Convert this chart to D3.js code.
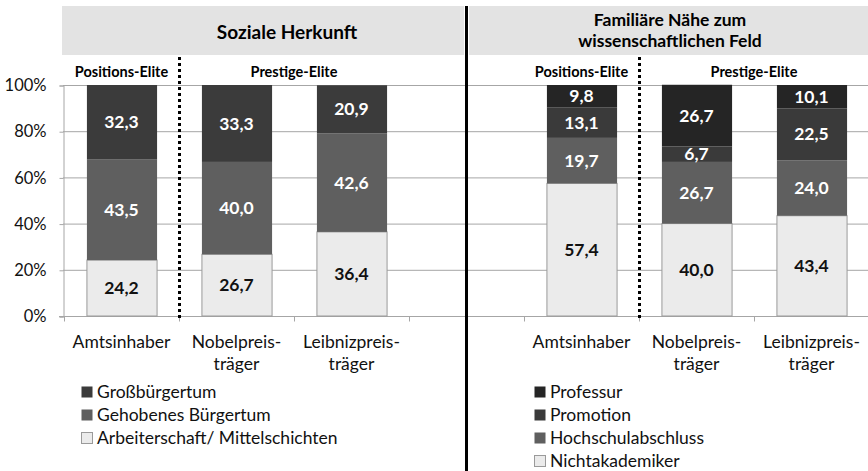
<!DOCTYPE html>
<html lang="de">
<head>
<meta charset="utf-8">
<title>Soziale Herkunft / Familiäre Nähe</title>
<script src="https://cdn.jsdelivr.net/npm/d3@7"></script>
<style>
  body { margin: 0; background: #fff; }
  text { font-family: Lato, "Open Sans", sans-serif; }
</style>
</head>
<body>
<div id="chart"></div>
<script>
// categories (x axis, two lines each)
var categories = ["Amtsinhaber", "Nobelpreisträger", "Leibnizpreisträger"];
var categoryLines = [["Amtsinhaber"], ["Nobelpreis-", "träger"], ["Leibnizpreis-", "träger"]];
var yTicks = [0, 20, 40, 60, 80, 100];

// left panel: Soziale Herkunft (bottom to top)
var herkunftSeries = ["Arbeiterschaft/ Mittelschichten", "Gehobenes Bürgertum", "Großbürgertum"];
var arbeiterschaft = [24.2, 26.7, 36.4];
var gehobenes = [43.5, 40.0, 42.6];
var grossbuerger = [32.3, 33.3, 20.9];

// right panel: Familiäre Nähe (bottom to top)
var naeheSeries = ["Nichtakademiker", "Hochschulabschluss", "Promotion", "Professur"];
var nichtakademiker = [57.4, 40.0, 43.4];
var hochschul = [19.7, 26.7, 24.0];
var promotion = [13.1, 6.7, 22.5];
var professur = [9.8, 26.7, 10.1];

var width = 868, height = 471;

var svg = d3.select("#chart").append("svg")
    .attr("width", width)
    .attr("height", height);

var y = d3.scaleLinear().domain([0, 100]).range([316, 85]);

// gridlines across whole width
svg.append("g").selectAll("line")
    .data(yTicks.filter(function(d) { return d > 0; }))
    .enter().append("line")
    .attr("x1", 63).attr("x2", 868)
    .attr("y1", function(d) { return y(d) + 0.5; })
    .attr("y2", function(d) { return y(d) + 0.5; })
    .attr("stroke", "#a6a6a6").attr("stroke-width", 1);

// y axis
var yAxis = d3.axisLeft(y).tickValues(yTicks)
    .tickFormat(function(d) { return d + "%"; })
    .tickSize(4).tickPadding(13);
var gy = svg.append("g").attr("transform", "translate(63.5,0.5)").call(yAxis);
gy.select(".domain").attr("stroke", "#a6a6a6");
gy.selectAll(".tick line").attr("stroke", "#a6a6a6");
gy.selectAll(".tick text").attr("font-size", 16.5).attr("fill", "#111")
    .style("font-family", "Lato, sans-serif");

// baseline
svg.append("line").attr("x1", 59).attr("x2", 868)
    .attr("y1", y(0) + 0.5).attr("y2", y(0) + 0.5)
    .attr("stroke", "#a6a6a6");

function drawPanel(x0, seriesNames, values, colors, textColors, legendX) {
  var x = d3.scaleBand().domain(categories).range([x0, x0 + 345]).paddingInner(0.39).paddingOuter(0.195);
  var rows = categories.map(function(c, i) {
    var r = { cat: c };
    seriesNames.forEach(function(s, j) { r[s] = values[j][i]; });
    return r;
  });
  var stack = d3.stack().keys(seriesNames)(rows);

  // x axis ticks between categories
  var gx = svg.append("g").attr("transform", "translate(0," + (y(0) + 0.5) + ")");
  gx.selectAll("line").data(d3.range(4)).enter().append("line")
    .attr("x1", function(i) { return x0 + i * 115 + 0.5; })
    .attr("x2", function(i) { return x0 + i * 115 + 0.5; })
    .attr("y1", 0).attr("y2", 5).attr("stroke", "#a6a6a6");

  var layers = svg.append("g").selectAll("g").data(stack).enter().append("g");
  layers.selectAll("rect").data(function(d) { return d.map(function(p) { p.key = d.key; p.idx = d.index; return p; }); })
    .enter().append("rect")
    .attr("x", function(d) { return x(d.data.cat) + 0.5; })
    .attr("y", function(d) { return y(d[1]); })
    .attr("width", x.bandwidth())
    .attr("height", function(d) { return y(d[0]) - y(d[1]); })
    .attr("fill", function(d) { return colors[d.idx]; })
    .attr("stroke", function(d) { return d.idx === 0 ? "#9a9a9a" : "none"; });

  layers.selectAll("text.val").data(function(d) { return d; })
    .enter().append("text")
    .attr("class", "val")
    .attr("x", function(d) { return x(d.data.cat) + x.bandwidth() / 2; })
    .attr("y", function(d) { return (y(d[0]) + y(d[1])) / 2; })
    .attr("dy", "0.35em")
    .attr("text-anchor", "middle")
    .attr("font-size", 17.5).attr("font-weight", "bold")
    .attr("fill", function(d) { return textColors[d.idx]; })
    .text(function(d) { return d3.format(".1f")(d[1] - d[0]).replace(".", ","); });

  // category labels
  categories.forEach(function(c, i) {
    var t = svg.append("text")
      .attr("x", x(c) + x.bandwidth() / 2).attr("y", 348)
      .attr("text-anchor", "middle").attr("font-size", 17.5).attr("fill", "#111");
    categoryLines[i].forEach(function(line, k) {
      t.append("tspan").attr("x", x(c) + x.bandwidth() / 2).attr("dy", k === 0 ? 0 : 22).text(line);
    });
  });

  // dotted separator
  svg.append("line")
    .attr("x1", x0 + 115.5).attr("x2", x0 + 115.5)
    .attr("y1", 57).attr("y2", 320)
    .attr("stroke", "#000").attr("stroke-width", 3).attr("stroke-dasharray", "3,3");

  // sub headers
  svg.append("text").attr("x", x(categories[0]) + x.bandwidth() / 2).attr("y", 77)
    .attr("text-anchor", "middle").attr("font-size", 14.5).attr("font-weight", "bold").text("Positions-Elite");
  svg.append("text").attr("x", x0 + 115 + 115).attr("y", 77)
    .attr("text-anchor", "middle").attr("font-size", 14.5).attr("font-weight", "bold").text("Prestige-Elite");

  // legend (top item = top of stack)
  var legendItems = seriesNames.map(function(s, j) { return { name: s, idx: j }; }).reverse();
  var lg = svg.append("g").selectAll("g").data(legendItems).enter().append("g")
    .attr("transform", function(d, i) { return "translate(" + legendX + "," + (392 + i * 23) + ")"; });
  lg.append("rect").attr("x", 0.5).attr("y", -5.5).attr("width", 11).attr("height", 11)
    .attr("fill", function(d) { return colors[d.idx]; })
    .attr("stroke", function(d) { return d.idx === 0 ? "#9a9a9a" : "none"; });
  lg.append("text").attr("x", 16).attr("dy", "0.35em").attr("font-size", 17.5).attr("fill", "#111")
    .text(function(d) { return d.name; });
}

// header bars
svg.append("rect").attr("x", 62).attr("y", 6).attr("width", 402).attr("height", 49).attr("fill", "#e3e3e3");
svg.append("rect").attr("x", 469).attr("y", 6).attr("width", 399).attr("height", 49).attr("fill", "#e3e3e3");
svg.append("text").attr("x", 287).attr("y", 32).attr("dy", "0.35em").attr("text-anchor", "middle")
  .attr("font-size", 19).attr("font-weight", "bold").text("Soziale Herkunft");
var hdr = svg.append("text").attr("x", 670).attr("y", 20).attr("dy", "0.35em").attr("text-anchor", "middle")
  .attr("font-size", 17.5).attr("font-weight", "bold");
hdr.append("tspan").attr("x", 670).text("Familiäre Nähe zum");
hdr.append("tspan").attr("x", 670).attr("dy", 21).text("wissenschaftlichen Feld");

drawPanel(64, herkunftSeries, [arbeiterschaft, gehobenes, grossbuerger],
  ["#ebebeb", "#5f5f5f", "#3b3b3b"], ["#111", "#fff", "#fff"], 81);
drawPanel(524, naeheSeries, [nichtakademiker, hochschul, promotion, professur],
  ["#ebebeb", "#5f5f5f", "#3a3a3a", "#252525"], ["#111", "#fff", "#fff", "#fff"], 534);

// thick vertical divider
svg.append("line").attr("x1", 466.5).attr("x2", 466.5).attr("y1", 6).attr("y2", 471)
  .attr("stroke", "#000").attr("stroke-width", 3);
</script>
</body>
</html>
